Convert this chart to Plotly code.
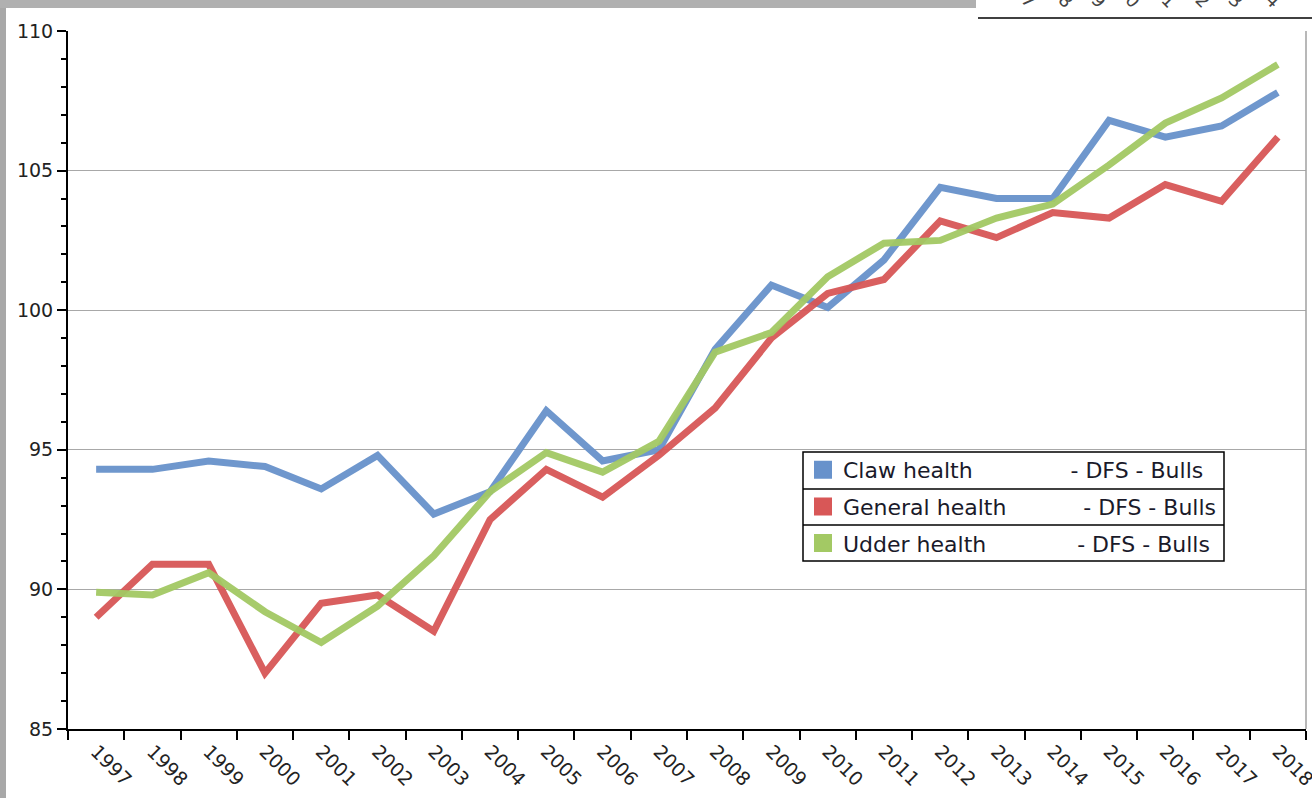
import plotly.graph_objects as go

# ---- data ----
years = ["1997", "1998", "1999", "2000", "2001", "2002", "2003", "2004", "2005", "2006", "2007",
         "2008", "2009", "2010", "2011", "2012", "2013", "2014", "2015", "2016", "2017", "2018"]
claw = [94.3, 94.3, 94.6, 94.4, 93.6, 94.8, 92.7, 93.5, 96.4, 94.6, 95.0,
        98.6, 100.9, 100.1, 101.8, 104.4, 104.0, 104.0, 106.8, 106.2, 106.6, 107.8]
general = [89.0, 90.9, 90.9, 87.0, 89.5, 89.8, 88.5, 92.5, 94.3, 93.3, 94.8,
           96.5, 99.0, 100.6, 101.1, 103.2, 102.6, 103.5, 103.3, 104.5, 103.9, 106.2]
udder = [89.9, 89.8, 90.6, 89.2, 88.1, 89.4, 91.2, 93.5, 94.9, 94.2, 95.3,
         98.5, 99.2, 101.2, 102.4, 102.5, 103.3, 103.8, 105.2, 106.7, 107.6, 108.8]
series_names = ["Claw health", "General health", "Udder health"]
series_suffix = "- DFS - Bulls"
y_ticks = [85, 90, 95, 100, 105, 110]
stray_digits = ["7", "8", "9", "0", "1", "2", "3", "4"]

# ---- style ----
W, H = 1312, 798
ML, MR, MT, MB = 68, 6, 31, 69
PW, PH = W - ML - MR, H - MT - MB
FONT = "DejaVu Sans"
colors = ["#6892cb", "#d85757", "#a3c964"]
pads = [14, 11, 13]


def px2x(px):
    return (px - ML) / PW


def px2y(py):
    return (H - MB - py) / PH


fig = go.Figure()
for name, vals, col in zip(series_names, [claw, general, udder], colors):
    fig.add_trace(go.Scatter(x=years, y=vals, mode="lines", name=name,
                             line=dict(color=col, width=7), opacity=0.95,
                             showlegend=False, hoverinfo="x+y"))

for i, (name, col) in enumerate(zip(series_names, colors)):
    label = name + "\u00a0" * pads[i] + series_suffix
    fig.add_trace(go.Scatter(x=[None], y=[None], mode="markers", name=label,
                             marker=dict(symbol="square", size=20, color=col,
                                         line=dict(width=2, color=col)),
                             legendgroup=f"g{i}", showlegend=True))

LX0, LX1, LY0, LY1 = 803, 1224, 452, 561
shapes = [
    # white area behind legend hiding the gridlines
    dict(type="rect", xref="paper", yref="paper",
         x0=px2x(784), x1=px2x(1245), y0=px2y(602), y1=px2y(442),
         fillcolor="white", line=dict(width=0), layer="between"),
    # right frame line
    dict(type="line", xref="paper", yref="paper", x0=1, x1=1, y0=0, y1=1,
         line=dict(color="#a0a0a0", width=1.5)),
    # legend box with row separators
    dict(type="rect", xref="paper", yref="paper", x0=px2x(LX0), x1=px2x(LX1),
         y0=px2y(LY1), y1=px2y(LY0), line=dict(color="black", width=1.5),
         fillcolor="white", layer="above"),
    dict(type="line", xref="paper", yref="paper", x0=px2x(LX0), x1=px2x(LX1),
         y0=px2y(489), y1=px2y(489), line=dict(color="black", width=1.5)),
    dict(type="line", xref="paper", yref="paper", x0=px2x(LX0), x1=px2x(LX1),
         y0=px2y(525), y1=px2y(525), line=dict(color="black", width=1.5)),
    # page decoration: grey strips
    dict(type="rect", xref="paper", yref="paper", x0=px2x(0), x1=px2x(6),
         y0=px2y(H), y1=px2y(0), fillcolor="#a8a8a8", line=dict(width=0), layer="below"),
    dict(type="rect", xref="paper", yref="paper", x0=px2x(0), x1=px2x(976),
         y0=px2y(8), y1=px2y(0), fillcolor="#b0b0b0", line=dict(width=0), layer="below"),
    # neighbouring chart's axis line at top right
    dict(type="line", xref="paper", yref="paper", x0=px2x(978), x1=px2x(1312),
         y0=px2y(18), y1=px2y(18), line=dict(color="black", width=1.5)),
]

stray_x = [1043, 1080, 1113, 1147, 1183, 1217, 1250, 1287]
annotations = [dict(text=d, x=px2x(xp), y=px2y(15), xref="paper", yref="paper",
                    yanchor="bottom", showarrow=False, textangle=45,
                    font=dict(family=FONT, size=18, color="#444"))
               for d, xp in zip(stray_digits, stray_x)]

fig.update_layout(
    width=W, height=H,
    margin=dict(l=ML, r=MR, t=MT, b=MB, autoexpand=False),
    paper_bgcolor="white", plot_bgcolor="white",
    font=dict(family=FONT, size=18, color="#222"),
    shapes=shapes, annotations=annotations,
    showlegend=True,
    legend=dict(x=px2x(LX0), y=px2y(LY0 - 3), xanchor="left", yanchor="top",
                bgcolor="rgba(0,0,0,0)", borderwidth=0,
                font=dict(family=FONT, size=22, color="#1a1a2a"),
                tracegroupgap=5, itemclick=False, itemdoubleclick=False),
    xaxis=dict(type="category", range=[-0.5, len(years) - 0.5], tickson="boundaries",
               ticks="outside", ticklen=9, automargin=False,
               tickwidth=1.5, tickcolor="black", showline=True, linecolor="black",
               linewidth=2, showgrid=False, tickangle=45, ticklabelstandoff=2,
               tickfont=dict(family=FONT, size=19, color="#222"), zeroline=False),
    yaxis=dict(range=[85, 110], tickvals=y_ticks, ticks="outside", ticklen=9,
               automargin=False,
               tickwidth=1.5, tickcolor="black", showline=True, linecolor="black",
               linewidth=2, showgrid=True, gridcolor="#a8a8a8", gridwidth=1,
               zeroline=False, tickfont=dict(family=FONT, size=19, color="#222"),
               minor=dict(dtick=1, ticks="outside", ticklen=5, tickcolor="black",
                          tickwidth=1.5, showgrid=False)),
)

fig.write_html("out.html", config={"displayModeBar": False},
               post_script="document.body.style.margin='0';")
